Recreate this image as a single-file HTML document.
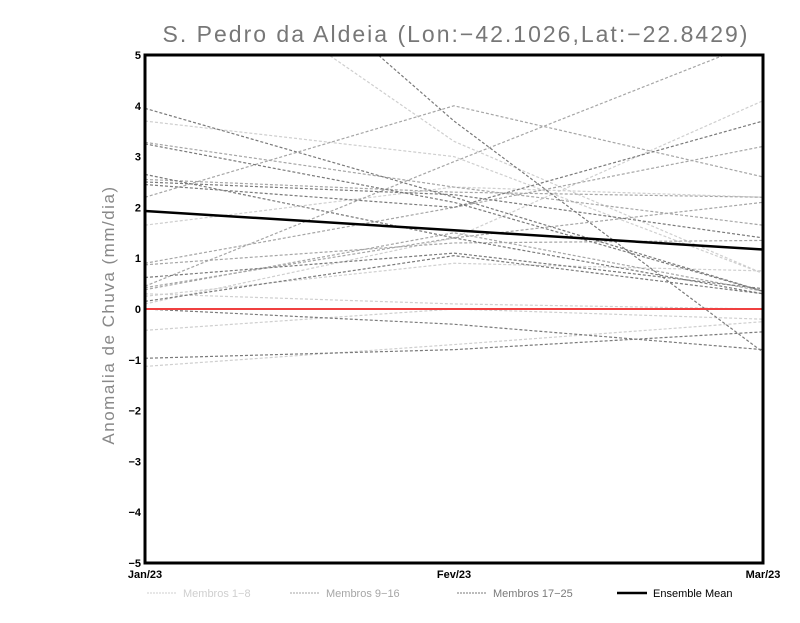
<!DOCTYPE html>
<html><head><meta charset="utf-8"><style>
body{margin:0;background:#fff;width:800px;height:618px;overflow:hidden}
text{font-family:"Liberation Sans",sans-serif}
</style></head><body>
<svg id="chart" width="800" height="618" xmlns="http://www.w3.org/2000/svg">
<text x="456" y="42" text-anchor="middle" font-size="23" fill="#777" letter-spacing="2">S. Pedro da Aldeia (Lon:−42.1026,Lat:−22.8429)</text>
<text transform="translate(114,315) rotate(-90)" text-anchor="middle" font-size="17" fill="#888" letter-spacing="1.5">Anomalia de Chuva (mm/dia)</text>
<g id="plot"></g>
</svg>
<script>
const categories=["Jan/23","Fev/23","Mar/23"];
const yTicks=[-5,-4,-3,-2,-1,0,1,2,3,4,5];
const members1to8=[[3.7,3.0,0.7],[1.65,2.4,2.2],[0.25,0.9,0.75],[0.1,1.4,4.1],[-0.42,0.0,-0.2],[-1.13,-0.7,-0.25],[7.5,3.3,0.7],[0.3,0.1,0.0]];
const members9to16=[[3.28,2.4,1.65],[2.55,2.3,2.2],[2.2,4.0,2.6],[0.9,2.0,3.2],[0.87,1.3,1.35],[0.45,2.9,5.3],[0.42,1.4,2.1],[0.38,1.5,0.35]];
const members17to25=[[3.95,2.2,0.35],[3.25,2.1,0.35],[2.65,1.4,0.3],[2.5,2.25,1.4],[2.45,2.0,3.7],[0.62,1.1,0.4],[0.15,1.05,0.3],[0.0,-0.3,-0.8],[-0.97,-0.8,-0.45],[9.0,3.7,-0.85]];
const ensembleMean=[1.93,1.55,1.17];
const L=145,R=763,T=55,B=563;
const x=i=>L+(R-L)*i/(categories.length-1);
const y=v=>T+(5-v)*(B-T)/10;
const NS="http://www.w3.org/2000/svg";
const svg=document.getElementById('chart');
const g=document.getElementById('plot');
const clip=document.createElementNS(NS,'clipPath');clip.setAttribute('id','c');
const cr=document.createElementNS(NS,'rect');cr.setAttribute('x',L);cr.setAttribute('y',T);cr.setAttribute('width',R-L);cr.setAttribute('height',B-T);
clip.appendChild(cr);svg.appendChild(clip);
const lines=document.createElementNS(NS,'g');lines.setAttribute('clip-path','url(#c)');g.appendChild(lines);
function poly(vals,color,w,dash,name){
 const p=document.createElementNS(NS,'polyline');
 p.setAttribute('points',vals.map((v,i)=>x(i)+','+y(v)).join(' '));
 p.setAttribute('fill','none');p.setAttribute('stroke',color);p.setAttribute('stroke-width',w);
 if(dash)p.setAttribute('stroke-dasharray',dash);
 
 
 lines.appendChild(p);
}
members1to8.forEach(m=>poly(m,'#cfcfcf',1.2,'3,2','member-1-8-line'));
members9to16.forEach(m=>poly(m,'#a6a6a6',1.2,'3,2','member-9-16-line'));
members17to25.forEach(m=>poly(m,'#7a7a7a',1.2,'3,2','member-17-25-line'));
const zl=document.createElementNS(NS,'line');zl.setAttribute('x1',L);zl.setAttribute('x2',R);zl.setAttribute('y1',y(0));zl.setAttribute('y2',y(0));zl.setAttribute('stroke','#f04040');zl.setAttribute('stroke-width',2);


lines.appendChild(zl);
poly(ensembleMean,'#000',2.5,null,'ensemble-mean-line');
const fr=document.createElementNS(NS,'rect');fr.setAttribute('x',L);fr.setAttribute('y',T);fr.setAttribute('width',R-L);fr.setAttribute('height',B-T);fr.setAttribute('fill','none');fr.setAttribute('stroke','#000');fr.setAttribute('stroke-width',3);


g.appendChild(fr);
yTicks.forEach(v=>{
 const t=document.createElementNS(NS,'text');t.setAttribute('x',L-4);t.setAttribute('y',y(v)+4);t.setAttribute('text-anchor','end');t.setAttribute('font-size','11');t.setAttribute('font-weight','bold');
 t.textContent=v<0?'−'+(-v):String(v);
 
 
 g.appendChild(t);
});
categories.forEach((c,i)=>{
 const t=document.createElementNS(NS,'text');t.setAttribute('x',x(i));t.setAttribute('y',B+15);t.setAttribute('text-anchor','middle');t.setAttribute('font-size','11');t.setAttribute('font-weight','bold');
 t.textContent=c;
 
 
 g.appendChild(t);
});
const legend=[['Membros 1−8','#cfcfcf',147,1],['Membros 9−16','#a6a6a6',290,1],['Membros 17−25','#7a7a7a',457,1],['Ensemble Mean','#000',617,2.5]];
legend.forEach((e,i)=>{
 const l=document.createElementNS(NS,'line');l.setAttribute('x1',e[2]);l.setAttribute('x2',e[2]+30);l.setAttribute('y1',593);l.setAttribute('y2',593);l.setAttribute('stroke',e[1]);l.setAttribute('stroke-width',e[3]);
 if(i<3)l.setAttribute('stroke-dasharray','2,1');
 
 
 g.appendChild(l);
 const t=document.createElementNS(NS,'text');t.setAttribute('x',e[2]+36);t.setAttribute('y',597);t.setAttribute('font-size','11');t.setAttribute('fill',i<3?e[1]:'#000');
 t.textContent=e[0];
 
 
 g.appendChild(t);
});
</script>
</body></html>
